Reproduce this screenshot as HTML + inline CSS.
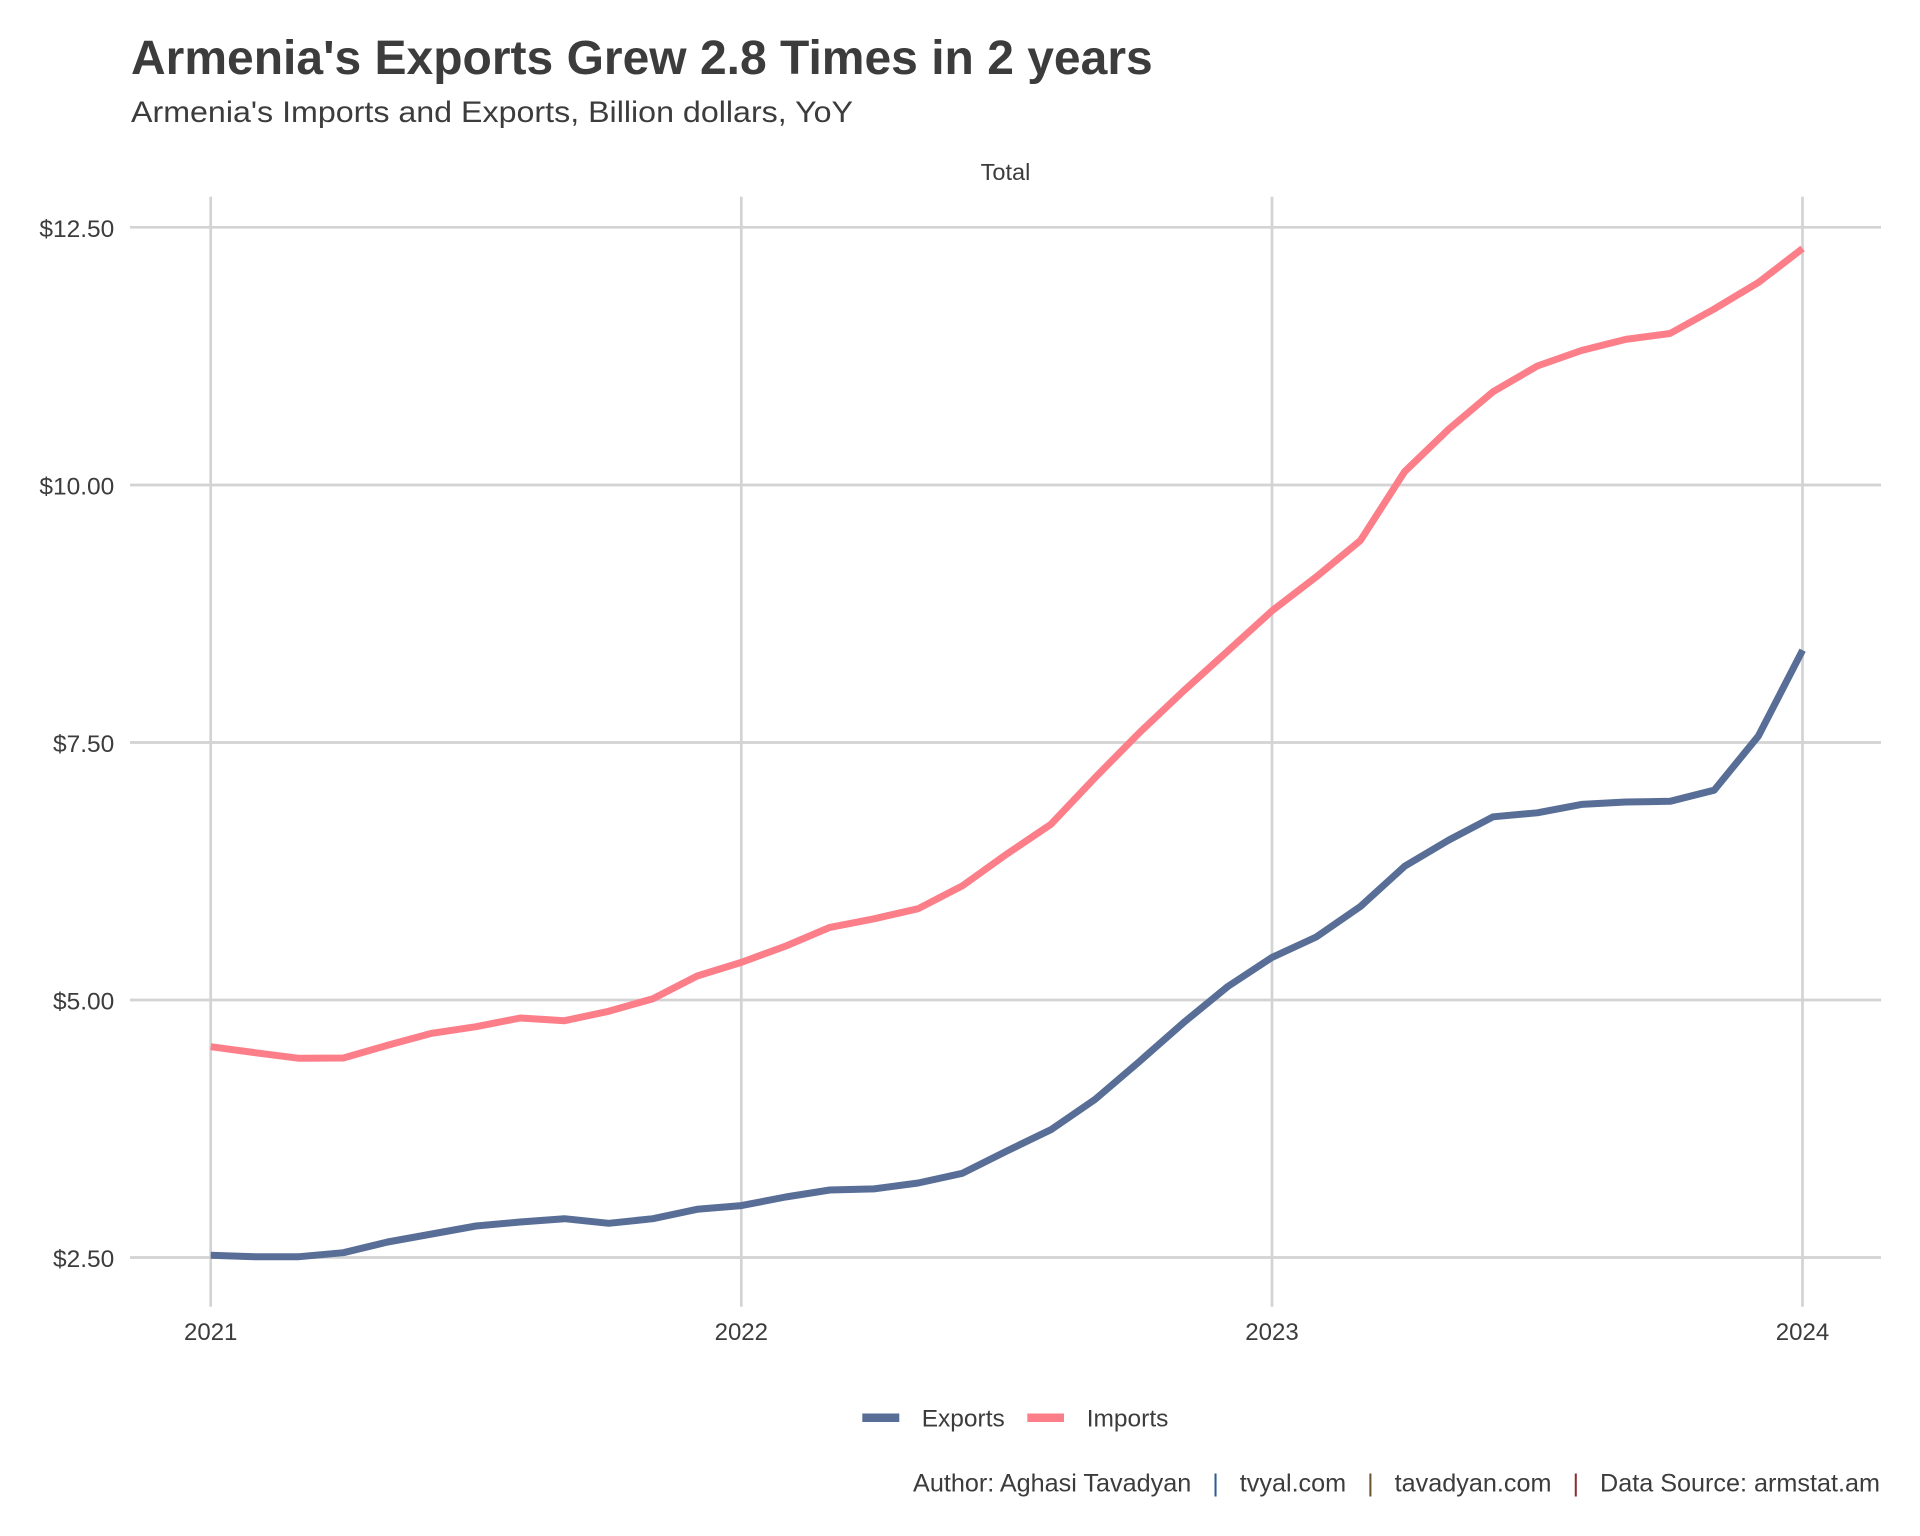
<!DOCTYPE html>
<html>
<head>
<meta charset="utf-8">
<style>
html,body{margin:0;padding:0;background:#fff;}
svg{display:block;}
text{font-family:"Liberation Sans",Arial,sans-serif;fill:#3c3c3c;}
</style>
</head>
<body>
<svg width="1920" height="1536" viewBox="0 0 1920 1536" xmlns="http://www.w3.org/2000/svg">
<rect x="0" y="0" width="1920" height="1536" fill="#ffffff"/>

<!-- Title -->
<text x="131" y="74" font-size="48" font-weight="bold" fill="#3c3c3c">Armenia's Exports Grew 2.8 Times in 2 years</text>
<text x="131" y="122" font-size="29.5" textLength="722" lengthAdjust="spacingAndGlyphs">Armenia's Imports and Exports, Billion dollars, YoY</text>

<!-- Strip -->
<text x="1005.5" y="180" font-size="23.5" text-anchor="middle">Total</text>

<!-- Gridlines -->
<g stroke="#d3d3d3" stroke-width="2.7" fill="none">
  <line x1="130" y1="227.3" x2="1881" y2="227.3"/>
  <line x1="130" y1="485" x2="1881" y2="485"/>
  <line x1="130" y1="742.5" x2="1881" y2="742.5"/>
  <line x1="130" y1="1000" x2="1881" y2="1000"/>
  <line x1="130" y1="1257.5" x2="1881" y2="1257.5"/>
  <line x1="210.7" y1="196.7" x2="210.7" y2="1306.7"/>
  <line x1="741.3" y1="196.7" x2="741.3" y2="1306.7"/>
  <line x1="1272" y1="196.7" x2="1272" y2="1306.7"/>
  <line x1="1802.5" y1="196.7" x2="1802.5" y2="1306.7"/>
</g>

<!-- Y labels -->
<g font-size="24.5" text-anchor="end">
  <text x="114.3" y="237">$12.50</text>
  <text x="114.3" y="494.7">$10.00</text>
  <text x="114.3" y="752.2">$7.50</text>
  <text x="114.3" y="1009.7">$5.00</text>
  <text x="114.3" y="1267.2">$2.50</text>
</g>

<!-- X labels -->
<g font-size="24" text-anchor="middle">
  <text x="210.7" y="1340">2021</text>
  <text x="741.3" y="1340">2022</text>
  <text x="1272" y="1340">2023</text>
  <text x="1802.5" y="1340">2024</text>
</g>

<!-- Imports -->
<polyline fill="none" stroke="#fc7e89" stroke-width="7" stroke-linejoin="round" stroke-linecap="butt"
points="210.7,1046.7 254.9,1052.7 299.1,1058.3 343.4,1058 387.6,1045.3 431.8,1033.3 476,1026.7 520.2,1018 564.5,1020.7 608.7,1011.3 652.9,998.7 697.1,976 741.3,962.4 785.6,946.1 829.8,927.4 874,918.8 918.2,908.7 962.4,885.8 1006.6,854.2 1050.9,824.3 1095.1,777.6 1139.3,732.8 1183.5,691 1227.8,651 1272,610.8 1316.2,576.9 1360.4,540.5 1404.6,471.7 1448.9,429 1493.1,391.7 1537.3,366 1581.5,350.5 1625.7,339.4 1670,333.5 1714.2,309 1758.4,282.5 1802.6,248.5"/>

<!-- Exports -->
<polyline fill="none" stroke="#586e96" stroke-width="7" stroke-linejoin="round" stroke-linecap="butt"
points="210.7,1255.3 254.9,1256.7 299.1,1256.7 343.4,1252.7 387.6,1242 431.8,1234 476,1226 520.2,1222 564.5,1218.7 608.7,1223.3 652.9,1218.7 697.1,1209.3 741.3,1205.6 785.6,1197 829.8,1190 874,1188.9 918.2,1183 962.4,1173.3 1006.6,1151.1 1050.9,1129.7 1095.1,1099.4 1139.3,1061.6 1183.5,1022.7 1227.8,986.5 1272,957.4 1316.2,937 1360.4,906.5 1404.6,866.3 1448.9,840 1493.1,816.8 1537.3,812.8 1581.5,804.4 1625.7,802 1670,801.3 1714.2,790.2 1758.4,736 1802.6,650.2"/>

<!-- Legend -->
<line x1="862.3" y1="1417.7" x2="899.3" y2="1417.7" stroke="#586e96" stroke-width="8.5"/>
<text x="921.7" y="1426.7" font-size="24.5">Exports</text>
<line x1="1027.3" y1="1417.7" x2="1064" y2="1417.7" stroke="#fc7e89" stroke-width="8.5"/>
<text x="1086.7" y="1426.7" font-size="24.5">Imports</text>

<!-- Caption -->
<text x="1880" y="1491.7" font-size="25.2" text-anchor="end" xml:space="preserve">Author: Aghasi Tavadyan   <tspan fill="#2f5b93">|</tspan>   tvyal.com   <tspan fill="#6b5530">|</tspan>   tavadyan.com   <tspan fill="#8a3030">|</tspan>   Data Source: armstat.am</text>
</svg>
</body>
</html>
